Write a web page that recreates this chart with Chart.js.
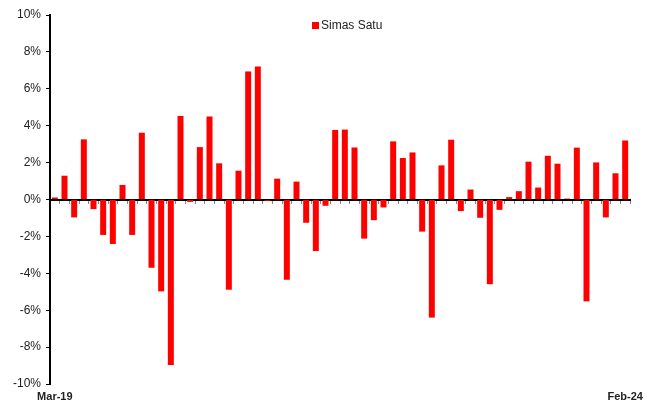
<!DOCTYPE html>
<html>
<head>
<meta charset="utf-8">
<script src="https://cdn.jsdelivr.net/npm/chart.js@4"></script>
<style>
html,body{margin:0;padding:0;background:#fff;}
#wrap{width:654px;height:405px;}
</style>
</head>
<body>
<div id="wrap"><canvas id="c" width="654" height="405"></canvas></div>
<script>
const seriesName = "Simas Satu";
const months = [
 "Mar-19","Apr-19","May-19","Jun-19","Jul-19","Aug-19","Sep-19","Oct-19","Nov-19","Dec-19",
 "Jan-20","Feb-20","Mar-20","Apr-20","May-20","Jun-20","Jul-20","Aug-20","Sep-20","Oct-20",
 "Nov-20","Dec-20","Jan-21","Feb-21","Mar-21","Apr-21","May-21","Jun-21","Jul-21","Aug-21",
 "Sep-21","Oct-21","Nov-21","Dec-21","Jan-22","Feb-22","Mar-22","Apr-22","May-22","Jun-22",
 "Jul-22","Aug-22","Sep-22","Oct-22","Nov-22","Dec-22","Jan-23","Feb-23","Mar-23","Apr-23",
 "May-23","Jun-23","Jul-23","Aug-23","Sep-23","Oct-23","Nov-23","Dec-23","Jan-24","Feb-24"
];
const returns = [
 0.11, 1.29, -0.97, 3.26, -0.52, -1.92, -2.41, 0.79, -1.92, 3.62,
 -3.70, -4.98, -8.97, 4.53, -0.13, 2.84, 4.50, 1.96, -4.89, 1.56,
 6.94, 7.21, -0.07, 1.13, -4.35, 0.97, -1.26, -2.79, -0.34, 3.77,
 3.79, 2.82, -2.12, -1.12, -0.43, 3.15, 2.25, 2.55, -1.74, -6.40,
 1.85, 3.24, -0.63, 0.54, -0.99, -4.59, -0.56, 0.13, 0.45, 2.05,
 0.65, 2.37, 1.94, 0.05, 2.81, -5.52, 2.01, -0.97, 1.42, 3.20
];
const yTicks = [-10,-8,-6,-4,-2,0,2,4,6,8,10];

const FONT = "'Liberation Sans', Arial, sans-serif";

const legendPlugin = {
  id: 'simpleLegend',
  afterDraw(chart) {
    const ctx = chart.ctx, ca = chart.chartArea;
    const ds = chart.data.datasets[0];
    const bx = ca.left + 262, by = ca.top + 7;
    ctx.save();
    ctx.fillStyle = ds.backgroundColor;
    ctx.fillRect(bx, by, 7, 7);
    ctx.fillStyle = '#222';
    ctx.font = "12px " + FONT;
    ctx.textBaseline = 'middle';
    ctx.textAlign = 'left';
    ctx.fillText(ds.label, bx + 9, by + 4);
    ctx.restore();
  }
};

new Chart(document.getElementById('c'), {
  type: 'bar',
  data: {
    labels: months,
    datasets: [{
      label: seriesName,
      data: returns,
      backgroundColor: '#ff0000',
      borderWidth: 0,
      barPercentage: 0.62,
      categoryPercentage: 1.0,
      xAxisID: 'x',
      yAxisID: 'y'
    }]
  },
  plugins: [legendPlugin],
  options: {
    responsive: false,
    animation: false,
    devicePixelRatio: 1,
    layout: { padding: { left: 0, right: 24, top: 15, bottom: 2 } },
    plugins: {
      tooltip: { enabled: false },
      legend: { display: false }
    },
    scales: {
      y: {
        min: yTicks[0], max: yTicks[yTicks.length-1],
        afterFit: s => { s.width = 50; },
        afterBuildTicks: s => { s.ticks = yTicks.map(v => ({ value: v })); },
        grid: { drawOnChartArea: false, drawTicks: true, tickLength: 4, color: '#000', lineWidth: 1 },
        border: { display: true, color: '#000', width: 2 },
        ticks: {
          padding: 5,
          color: '#222',
          font: { family: FONT, size: 12 },
          callback: v => v + '%'
        }
      },
      x: {
        type: 'category',
        position: { y: 0 },
        offset: true,
        grid: { offset: true, drawOnChartArea: false, drawTicks: true, tickLength: 3, color: '#888', lineWidth: 1 },
        border: { display: true, color: '#000', width: 2 },
        ticks: { display: false }
      },
      x2: {
        type: 'category',
        position: 'bottom',
        offset: true,
        grid: { display: false, drawTicks: false },
        border: { display: false },
        afterFit: s => { s.height = 19; },
        ticks: {
          autoSkip: false,
          maxRotation: 0,
          padding: 6,
          color: '#222',
          font: { family: FONT, size: 11, weight: 'bold' },
          callback: function(v, i) { return (i === 0 || i === months.length - 1) ? months[i] : ''; }
        }
      }
    }
  }
});
</script>
</body>
</html>
